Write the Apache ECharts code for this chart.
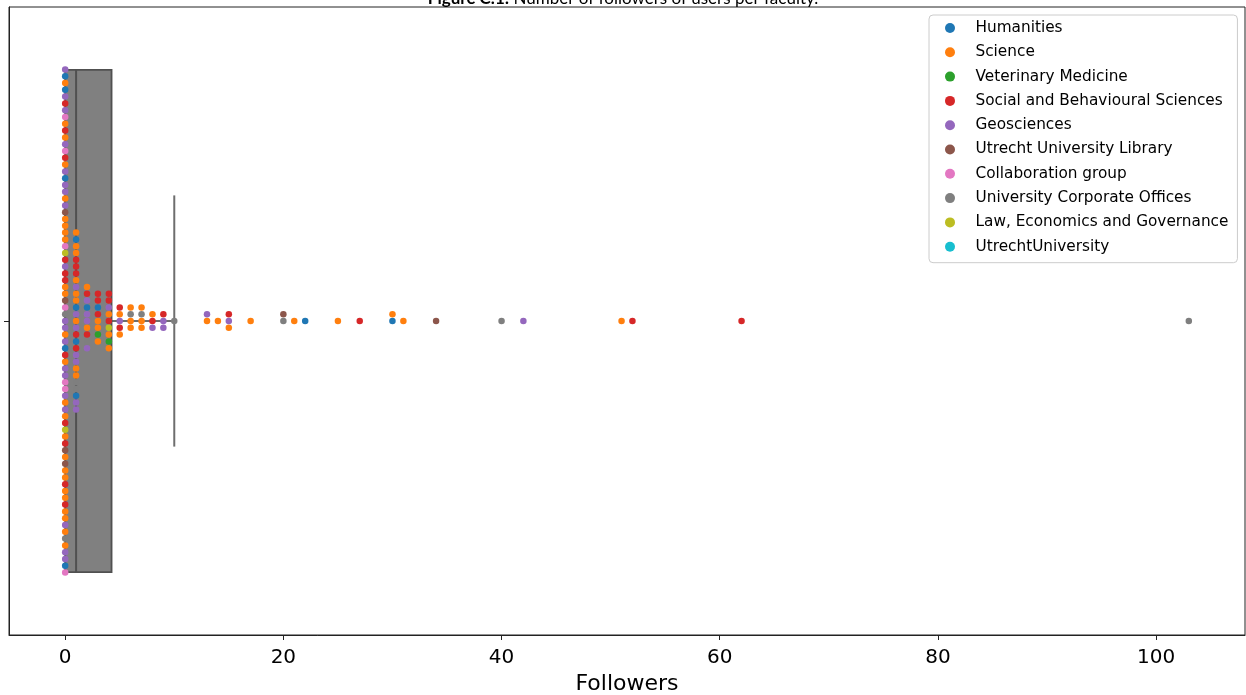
<!DOCTYPE html>
<html><head><meta charset="utf-8">
<script src="https://cdn.jsdelivr.net/npm/echarts@6/dist/echarts.min.js"></script>
<style>html,body{margin:0;padding:0;background:#fff}#c{width:1246px;height:695px}</style>
</head><body><div id="c"></div>
<script>
// ---------- data ----------
const faculties = ['Humanities','Science','Veterinary Medicine','Social and Behavioural Sciences','Geosciences','Utrecht University Library','Collaboration group','University Corporate Offices','Law, Economics and Governance','UtrechtUniversity'];
const facultyCodes = ['H','S','V','B','G','L','C','U','E','T'];
const facultyColors = ['#1f77b4','#ff7f0e','#2ca02c','#d62728','#9467bd','#8c564b','#e377c2','#7f7f7f','#bcbd22','#17becf'];
// distinct follower counts
const followerValues = [0,1,2,3,4,5,6,7,8,9,10,13,14,15,17,20,21,22,25,27,30,31,34,40,42,51,52,62,103];
// faculty of each user having that follower count (one letter per user, in swarm order top to bottom)
const columnFaculties = [
  'GHSHGBGCSBSGCBSGHGGSGLSSSSCEBGBBSSLCUGGSGHBSGGCCGSGSBESBLSLSSBSSBSSGSUSGGHC',
  'SHSSBBBSGSSHGSGBHBGGSSUUHGG',
  'SBGHGGSBUG',
  'BBHBSSVS',
  'BBGSBESVS',
  'BSGBS',
  'SUSS',
  'SUSS',
  'SBG',
  'BGG',
  'U',
  'GS','S','BGS','S','LU','S','H','S','B','SH','S','L','U','G','S','B','B','U'
];
const xTickValues = [0,20,40,60,80,100];

// ---------- layout constants ----------
const GRID = {left: 9, right: 1, top: 7, bottom: 60};
const SLOT_PX = 6.8;       // swarm dot spacing
const BOX_WIDTH = 0.8, CAP_WIDTH = 0.4;

const chart = echarts.init(document.getElementById('c'), null, {renderer: 'canvas'});
const plotH = chart.getHeight() - GRID.top - GRID.bottom;
const slot = SLOT_PX / plotH;

// build per-faculty scatter data
const perFaculty = faculties.map(() => []);
const allValues = [];
followerValues.forEach((v, i) => {
  const codes = columnFaculties[i];
  const n = codes.length;
  const above = Math.floor(n / 2);
  for (let k = 0; k < n; k++) {
    const fi = facultyCodes.indexOf(codes[k]);
    perFaculty[fi].push([v, (above - k) * slot]);
    allValues.push(v);
  }
});

// box statistics
function percentile(sorted, p) {
  const pos = (sorted.length - 1) * p;
  const lo = Math.floor(pos), hi = Math.ceil(pos);
  return sorted[lo] + (sorted[hi] - sorted[lo]) * (pos - lo);
}
const sorted = allValues.slice().sort((a, b) => a - b);
const q1 = percentile(sorted, 0.25), med = percentile(sorted, 0.5), q3 = percentile(sorted, 0.75);
const iqr = q3 - q1;
const wHi = Math.max(...sorted.filter(v => v <= q3 + 1.5 * iqr));
const wLo = Math.min(...sorted.filter(v => v >= q1 - 1.5 * iqr));

const EDGE = '#505050';
const WHISK = '#6e6e6e';
const series = [{
  type: 'custom',
  clip: false,
  z: 1,
  data: [[q1, med, q3, wLo, wHi, 0]],
  encode: {x: [0, 1, 2, 3, 4], y: 5},
  renderItem: function (params, api) {
    const yc = api.coord([api.value(0), api.value(5)])[1];
    const bh = api.size([0, BOX_WIDTH])[1];
    const ch = api.size([0, CAP_WIDTH])[1];
    const X = i => api.coord([api.value(i), 0])[0];
    const xq1 = X(0), xm = X(1), xq3 = X(2), xlo = X(3), xhi = X(4);
    const ls = {stroke: WHISK, lineWidth: 2};
    return {type: 'group', children: [
      {type: 'line', shape: {x1: xlo, y1: yc, x2: xq1, y2: yc}, style: ls},
      {type: 'line', shape: {x1: xq3, y1: yc, x2: xhi, y2: yc}, style: ls},
      {type: 'line', shape: {x1: xlo, y1: yc - ch / 2, x2: xlo, y2: yc + ch / 2}, style: ls},
      {type: 'line', shape: {x1: xhi, y1: yc - ch / 2, x2: xhi, y2: yc + ch / 2}, style: ls},
      {type: 'rect', shape: {x: xq1, y: yc - bh / 2, width: xq3 - xq1, height: bh}, style: {fill: '#808080', stroke: EDGE, lineWidth: 1.8}},
      {type: 'line', shape: {x1: xm, y1: yc - bh / 2, x2: xm, y2: yc + bh / 2}, style: {stroke: EDGE, lineWidth: 2}}
    ]};
  }
}];
faculties.forEach((name, i) => {
  series.push({
    type: 'scatter', name: name, z: 3,
    symbol: 'circle', symbolSize: 6.5,
    itemStyle: {color: facultyColors[i], opacity: 1},
    emphasis: {disabled: true},
    data: perFaculty[i]
  });
});

chart.setOption({
  animation: false,
  backgroundColor: '#fff',
  color: facultyColors,
  title: {
    text: '{b|Figure C.1:} Number of followers of users per faculty.',
    left: 'center', top: -15,
    textStyle: {fontFamily: 'Lato', fontSize: 17, color: '#000', fontWeight: 'normal',
      rich: {b: {fontFamily: 'Lato', fontSize: 17, fontWeight: 'bold', color: '#000'}}}
  },
  legend: {
    data: faculties,
    orient: 'vertical', left: 929, top: 15,
    icon: 'circle', itemWidth: 41, itemHeight: 10, itemGap: 6.3,
    padding: [4, 9, 7, 16],
    borderColor: '#cccccc', borderWidth: 1, borderRadius: 4,
    backgroundColor: 'rgba(255,255,255,0.8)',
    textStyle: {fontFamily: 'DejaVu Sans', fontSize: 15.3, color: '#000', lineHeight: 18}
  },
  grid: Object.assign({show: true, borderColor: '#222', borderWidth: 1, backgroundColor: 'transparent', containLabel: false, outerBoundsMode: 'none'}, GRID),
  xAxis: {
    type: 'value', min: -5.15, max: 108.15,
    name: 'Followers', nameLocation: 'middle', nameGap: 37,
    nameTextStyle: {fontFamily: 'DejaVu Sans', fontSize: 22, color: '#000'},
    axisLine: {show: true, onZero: false, lineStyle: {color: '#222', width: 1}},
    axisTick: {show: true, length: 5, customValues: xTickValues, lineStyle: {color: '#222'}},
    axisLabel: {customValues: xTickValues, fontFamily: 'DejaVu Sans', fontSize: 20, color: '#000', margin: 13},
    splitLine: {show: false}
  },
  yAxis: {
    type: 'value', min: -0.5, max: 0.5,
    axisLine: {show: true, onZero: false, lineStyle: {color: '#222', width: 1}},
    axisTick: {show: true, length: 5, customValues: [0], lineStyle: {color: '#222'}},
    axisLabel: {show: false},
    splitLine: {show: false}
  },
  series: series
});
</script></body></html>
